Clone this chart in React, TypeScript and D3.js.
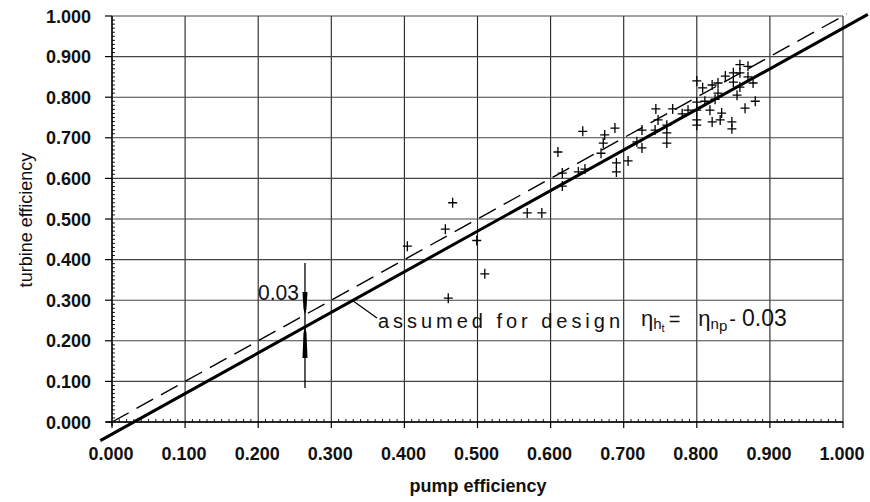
import React from "react";
import * as d3 from "d3";

// ---- data ----
const pumpEff: number[] = [
  0.404, 0.456, 0.466, 0.46, 0.499, 0.51, 0.568, 0.588, 0.61, 0.616, 0.616, 0.638, 0.647, 0.644,
  0.669, 0.672, 0.674, 0.688, 0.69, 0.69, 0.706, 0.718, 0.725, 0.725, 0.744, 0.747, 0.743, 0.759,
  0.759, 0.759, 0.767, 0.78, 0.788, 0.8, 0.8, 0.8, 0.8, 0.8, 0.808, 0.811, 0.818, 0.821, 0.821,
  0.825, 0.829, 0.829, 0.832, 0.834, 0.839, 0.85, 0.85, 0.848, 0.848, 0.855, 0.859, 0.859, 0.859,
  0.866, 0.87, 0.87, 0.877, 0.88,
];
const turbineEff: number[] = [
  0.433, 0.475, 0.54, 0.305, 0.447, 0.365, 0.515, 0.515, 0.665, 0.613, 0.581, 0.616, 0.623, 0.716,
  0.662, 0.687, 0.707, 0.724, 0.638, 0.616, 0.643, 0.69, 0.719, 0.675, 0.771, 0.744, 0.719, 0.731,
  0.712, 0.687, 0.771, 0.759, 0.768, 0.84, 0.788, 0.768, 0.744, 0.731, 0.823, 0.79, 0.768, 0.83,
  0.739, 0.795, 0.835, 0.81, 0.744, 0.761, 0.852, 0.86, 0.837, 0.739, 0.722, 0.805, 0.88, 0.86,
  0.825, 0.773, 0.876, 0.85, 0.835, 0.79,
];
const majorTicks: number[] = [0, 0.1, 0.2, 0.3, 0.4, 0.5, 0.6, 0.7, 0.8, 0.9, 1.0];
const tickLabels: string[] = ["0.000", "0.100", "0.200", "0.300", "0.400", "0.500", "0.600", "0.700", "0.800", "0.900", "1.000"];
const designOffset = 0.03; // eta_t = eta_p - 0.03
const solidRange: number[] = [-0.016, 1.034];
const dashedRange: number[] = [0, 1.005];
const markX = 0.264; // position of the 0.03 dimension mark

const W = 870;
const H = 502;

export default function App() {
  const x = d3.scaleLinear().domain([0, 1]).range([112, 843]);
  const y = d3.scaleLinear().domain([0, 1]).range([422, 16]);
  const minor = d3.range(1, 100).filter((i) => i % 10 !== 0).map((i) => i / 100);
  const line = d3
    .line<number>()
    .x((d) => x(d))
    .y((d) => y(d));
  const solid = d3
    .line<number>()
    .x((d) => x(d))
    .y((d) => y(d - designOffset));
  const font = "'Liberation Sans', Arial, sans-serif";

  const mx = x(markX);
  const yDash = y(markX);
  const ySolid = y(markX - designOffset);

  // leader for annotation
  const leadX = 0.329;
  return (
    <svg
      width={W}
      height={H}
      style={{ position: "absolute", left: 0, top: 0, background: "#fff" }}
      fontFamily={font}
    >
      <rect width={W} height={H} fill="#fff" />
      {/* grid */}
      {majorTicks.map((t) => (
        <line key={"gv" + t} x1={x(t)} x2={x(t)} y1={y(0)} y2={y(1)} stroke="#222" strokeWidth={1.1} />
      ))}
      {majorTicks.map((t) => (
        <line key={"gh" + t} x1={x(0)} x2={x(1)} y1={y(t)} y2={y(t)} stroke="#444" strokeWidth={1.1} />
      ))}
      {/* axes */}
      <line x1={x(0)} x2={x(0)} y1={y(1)} y2={y(0) + 4} stroke="#000" strokeWidth={1.3} />
      <line x1={x(0) - 6} x2={x(1)} y1={y(0)} y2={y(0)} stroke="#000" strokeWidth={1.3} />
      {majorTicks.map((t) => (
        <line key={"yt" + t} x1={x(0) - 7} x2={x(0)} y1={y(t)} y2={y(t)} stroke="#000" strokeWidth={1.2} />
      ))}
      {majorTicks.map((t) => (
        <line key={"xt" + t} x1={x(t)} x2={x(t)} y1={y(0)} y2={y(0) + 6} stroke="#000" strokeWidth={1.2} />
      ))}
      {minor.map((t) => (
        <line key={"ym" + t} x1={x(0)} x2={x(0) + 3} y1={y(t)} y2={y(t)} stroke="#000" strokeWidth={0.9} />
      ))}
      {minor.map((t) => (
        <line key={"xm" + t} x1={x(t)} x2={x(t)} y1={y(0)} y2={y(0) - 3} stroke="#000" strokeWidth={0.9} />
      ))}
      {/* tick labels */}
      {majorTicks.map((t, i) => (
        <text key={"yl" + t} x={91} y={y(t) + 6.5} textAnchor="end" fontSize={18} fontWeight="bold" fill="#111">
          {tickLabels[i]}
        </text>
      ))}
      {majorTicks.map((t, i) => (
        <text key={"xl" + t} x={x(t) - 1} y={460} textAnchor="middle" fontSize={18} fontWeight="bold" fill="#111">
          {tickLabels[i]}
        </text>
      ))}
      {/* axis titles */}
      <text x={478} y={492} textAnchor="middle" fontSize={18} fontWeight="bold" fill="#111">
        pump efficiency
      </text>
      <text
        transform={`translate(32,220) rotate(-90)`}
        textAnchor="middle"
        fontSize={18}
        fill="#111"
      >
        turbine efficiency
      </text>
      {/* lines */}
      <path d={line(dashedRange) || ""} stroke="#000" strokeWidth={1.4} fill="none" strokeDasharray="19 9" />
      <path d={solid(solidRange) || ""} stroke="#000" strokeWidth={3} fill="none" />
      {/* points */}
      {pumpEff.map((p, i) => {
        const cx = x(p);
        const cy = y(turbineEff[i]);
        return (
          <path
            key={"pt" + i}
            d={`M${cx - 4.5},${cy}H${cx + 4.5}M${cx},${cy - 5}V${cy + 5}`}
            stroke="#000"
            strokeWidth={1.3}
            fill="none"
          />
        );
      })}
      {/* 0.03 dimension mark */}
      <line x1={mx} x2={mx} y1={263} y2={388} stroke="#000" strokeWidth={1.3} />
      <path d={`M${mx - 2.5},${292}L${mx + 2.5},${292}L${mx + 1.5},${yDash - 6}L${mx},${yDash}L${mx - 1.5},${yDash - 6}Z`} fill="#000" />
      <path d={`M${mx - 2.5},${358}L${mx + 2.5},${358}L${mx + 1.5},${ySolid + 6}L${mx},${ySolid}L${mx - 1.5},${ySolid + 6}Z`} fill="#000" />
      <text x={258} y={300} fontSize={22} fill="#111" textLength={41} lengthAdjust="spacingAndGlyphs">
        0.03
      </text>
      {/* annotation */}
      <line x1={x(leadX)} x2={377} y1={y(leadX - designOffset)} y2={318} stroke="#000" strokeWidth={1.2} />
      <text x={378} y={328} fontSize={20} fill="#111" textLength={242} lengthAdjust="spacing">
        assumed for design
      </text>
      <text x={641} y={326} fontSize={22} fill="#111">
        η
        <tspan fontSize={15} dy={3}>h</tspan>
        <tspan fontSize={11} dy={3}>t</tspan>
        <tspan fontSize={20} dy={-6} dx={4}>=</tspan>
        <tspan fontSize={22} dx={18}>η</tspan>
        <tspan fontSize={15} dy={3}>n</tspan>
        <tspan fontSize={15} dy={2}>p</tspan>
        <tspan fontSize={20} dy={-5} dx={2}>-</tspan>
        <tspan fontSize={23} dx={6}>0.03</tspan>
      </text>
    </svg>
  );
}
